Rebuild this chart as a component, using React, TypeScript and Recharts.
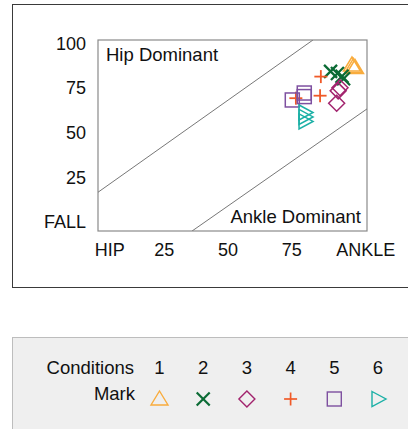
import React from 'react';
import { ScatterChart, Scatter, XAxis, YAxis, ReferenceLine, Customized } from 'recharts';

const conditions = ['1', '2', '3', '4', '5', '6'];
const markColors = ['#F9AC3D', '#0B6B35', '#A2246E', '#F05A28', '#7E50A0', '#1BB0A6'];
const markShapes = ['triangle', 'cross', 'diamond', 'plus', 'square', 'triangleRight'];

const cond1X = [98.9, 99.5, 100.1];
const cond1Y = [88.1, 87.3, 86.7];
const cond2X = [90.5, 93.2, 95.0, 95.6];
const cond2Y = [84.5, 83.3, 81.8, 80.4];
const cond3X = [94.2, 93.5, 92.9];
const cond3Y = [75.4, 73.6, 66.7];
const cond4X = [86.7, 86.4, 76.9];
const cond4Y = [81.6, 70.9, 69.5];
const cond5X = [75.5, 80.2, 80.2];
const cond5Y = [68.5, 72.4, 70.4];
const cond6X = [80.5, 80.5, 80.5];
const cond6Y = [61.5, 59.0, 56.5];

const seriesX = [cond1X, cond2X, cond3X, cond4X, cond5X, cond6X];
const seriesY = [cond1Y, cond2Y, cond3Y, cond4Y, cond5Y, cond6Y];

const xTickValues = [0, 25, 50, 75, 100];
const xTickLabels = ['HIP', '25', '50', '75', 'ANKLE'];
const yTickValues = [0, 25, 50, 75, 100];
const yTickLabels = ['FALL', '25', '50', '75', '100'];

const xDomain = [-0.7, 104.8];
const yDomain = [-4.9, 102.1];

const hipBoundary = [{ x: -0.7, y: 16.8 }, { x: 83.6, y: 102.1 }];
const ankleBoundary = [{ x: 36.2, y: -4.9 }, { x: 104.8, y: 63.5 }];

const FONT = '"Liberation Sans", Arial, Helvetica, sans-serif';

function Symbol({ kind, cx, cy, color, sw = 1.5 }: { kind: string; cx: number; cy: number; color: string; sw?: number }) {
  switch (kind) {
    case 'triangle':
      return <polygon points={`${cx},${cy - 8} ${cx + 8.5},${cy + 6} ${cx - 8.5},${cy + 6}`} fill="none" stroke={color} strokeWidth={sw} />;
    case 'cross':
      return (
        <g stroke={color} strokeWidth={sw + 0.8}>
          <line x1={cx - 6.5} y1={cy - 6.5} x2={cx + 6.5} y2={cy + 6.5} />
          <line x1={cx - 6.5} y1={cy + 6.5} x2={cx + 6.5} y2={cy - 6.5} />
        </g>
      );
    case 'diamond':
      return <polygon points={`${cx},${cy - 8} ${cx + 8},${cy} ${cx},${cy + 8} ${cx - 8},${cy}`} fill="none" stroke={color} strokeWidth={sw} />;
    case 'plus':
      return (
        <g stroke={color} strokeWidth={sw + 0.3}>
          <line x1={cx - 6.5} y1={cy} x2={cx + 6.5} y2={cy} />
          <line x1={cx} y1={cy - 6.5} x2={cx} y2={cy + 6.5} />
        </g>
      );
    case 'square':
      return <rect x={cx - 7} y={cy - 7} width={14} height={14} fill="none" stroke={color} strokeWidth={sw} />;
    case 'triangleRight':
      return <polygon points={`${cx - 6},${cy - 7.5} ${cx + 8},${cy} ${cx - 6},${cy + 7.5}`} fill="none" stroke={color} strokeWidth={sw} />;
    default:
      return null;
  }
}

const XTick = (props: any) => {
  const { x, y, payload, index } = props;
  const i = xTickValues.indexOf(payload.value);
  const dx = i === 0 ? 10 : i === xTickValues.length - 1 ? 11 : 0.7;
  return (
    <text x={x + dx} y={y} dy={16.5} textAnchor="middle" fontFamily={FONT} fontSize={18} fill="#111">
      {xTickLabels[i]}
    </text>
  );
};

const YTick = (props: any) => {
  const { x, y, payload } = props;
  const i = yTickValues.indexOf(payload.value);
  return (
    <text x={x - 4} y={y} dy={6} textAnchor="end" fontFamily={FONT} fontSize={18} fill="#111">
      {yTickLabels[i]}
    </text>
  );
};

const Annotations = (props: any) => {
  const off = props.offset || { left: 98, top: 40, width: 269, height: 191 };
  const left = off.left;
  const top = off.top;
  const right = off.left + off.width;
  const bottom = off.top + off.height;
  return (
    <g fontFamily={FONT} fontSize={18.5} fill="#111">
      <rect x={left} y={top} width={right - left} height={bottom - top} fill="none" stroke="#8a8a8a" strokeWidth={1.2} />
      <text x={left + 8} y={top + 21}>Hip Dominant</text>
      <text x={right - 6} y={bottom - 8} textAnchor="end">Ankle Dominant</text>
    </g>
  );
};

export default function App() {
  const series = conditions.map((c, i) => ({
    name: c,
    color: markColors[i],
    shape: markShapes[i],
    data: seriesX[i].map((x, j) => ({ x, y: seriesY[i][j] })),
  }));

  return (
    <div style={{ position: 'absolute', left: 0, top: 0, width: 408, height: 429, overflow: 'hidden', background: '#fff' }}>
      <div style={{ position: 'absolute', left: 12, top: 4, width: 410, height: 282, border: '1px solid #3a3a3a' }} />
      <div style={{ position: 'absolute', left: 0, top: 0 }}>
        <ScatterChart width={408} height={290} margin={{ top: 40, right: 41, bottom: 29, left: 38 }}>
          <XAxis
            type="number"
            dataKey="x"
            domain={xDomain}
            ticks={xTickValues}
            allowDataOverflow
            axisLine={false}
            tickLine={false}
            height={30}
            tick={<XTick />}
            interval={0}
          />
          <YAxis
            type="number"
            dataKey="y"
            domain={yDomain}
            ticks={yTickValues}
            allowDataOverflow
            axisLine={false}
            tickLine={false}
            width={60}
            tick={<YTick />}
            interval={0}
          />
          <ReferenceLine segment={hipBoundary} stroke="#777" strokeWidth={1} ifOverflow="hidden" />
          <ReferenceLine segment={ankleBoundary} stroke="#777" strokeWidth={1} ifOverflow="hidden" />
          <Customized component={Annotations} />
          {series.map((s) => (
            <Scatter
              key={s.name}
              name={s.name}
              data={s.data}
              isAnimationActive={false}
              shape={(p: any) => <Symbol kind={s.shape} cx={p.cx} cy={p.cy} color={s.color} />}
            />
          ))}
        </ScatterChart>
      </div>
      <div style={{ position: 'absolute', left: 12, top: 337, width: 410, height: 110, background: '#efefef', border: '1px solid #bdbdbd' }} />
      <svg style={{ position: 'absolute', left: 0, top: 0 }} width={408} height={429}>
        <g fontFamily={FONT} fontSize={18.5} fill="#111">
          <text x={134} y={374} textAnchor="end">Conditions</text>
          <text x={135} y={400} textAnchor="end">Mark</text>
          {conditions.map((c, i) => (
            <g key={c}>
              <text x={159.5 + i * 43.7} y={374} textAnchor="middle">{c}</text>
              <Symbol kind={markShapes[i]} cx={159.5 + i * 43.7} cy={399} color={markColors[i]} sw={1.4} />
            </g>
          ))}
        </g>
      </svg>
    </div>
  );
}
